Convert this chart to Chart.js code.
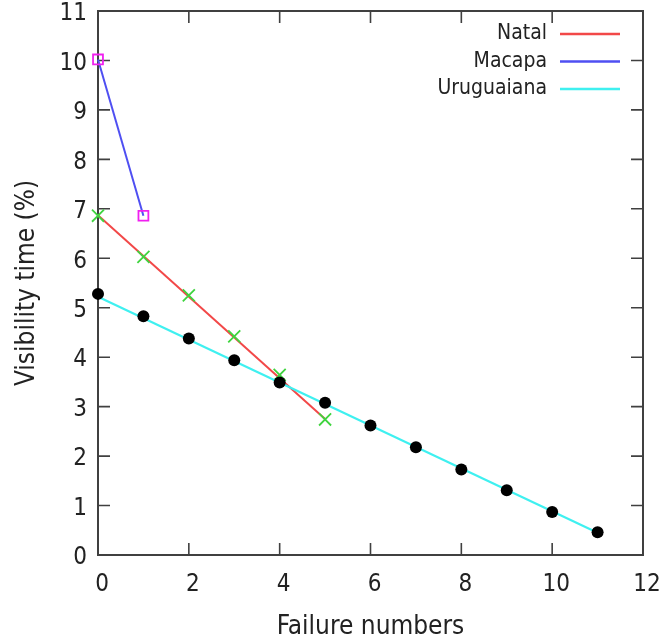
<!DOCTYPE html>
<html>
<head>
<meta charset="utf-8">
<script src="https://cdn.jsdelivr.net/npm/chart.js@4.4.0/dist/chart.umd.min.js"></script>
<style>
body { margin: 0; background: #fff; }
#wrap { width: 665px; height: 643px; }
</style>
</head>
<body>
<div id="wrap"><canvas id="chart" width="665" height="643"></canvas></div>
<script>
// failure numbers vs visibility time (%)
const natalX = [0, 1, 2, 3, 4, 5]
const natalY = [6.86, 6.03, 5.25, 4.42, 3.64, 2.74]
const natalFitX = [0, 5]
const natalFitY = [6.87, 2.75]

const macapaX = [0, 1]
const macapaY = [10.02, 6.86]

const uruX = [0, 1, 2, 3, 4, 5, 6, 7, 8, 9, 10, 11]
const uruY = [5.28, 4.83, 4.38, 3.94, 3.49, 3.08, 2.62, 2.18, 1.73, 1.31, 0.87, 0.46]
const uruFitX = [0, 11]
const uruFitY = [5.22, 0.45]

const xTicks = [0, 2, 4, 6, 8, 10, 12]
const yTicks = [0, 1, 2, 3, 4, 5, 6, 7, 8, 9, 10, 11]

const FONT = '"DejaVu Sans Condensed", "DejaVu Sans"'
const INK = '#222'
const FRAME = '#404040'

const pts = (xs, ys) => xs.map((x, i) => ({x: x, y: ys[i]}))

//frame with inward ticks on all four sides, gnuplot style
const framePlugin = {
	id: 'frame',
	beforeDatasetsDraw(chart)
	{
		const {ctx, chartArea: a, scales} = chart
		ctx.save()
		ctx.strokeStyle = FRAME
		ctx.lineWidth = 2
		ctx.strokeRect(a.left, a.top, a.right - a.left, a.bottom - a.top)
		ctx.lineWidth = 1.6
		ctx.beginPath()
		const len = 12
		xTicks.forEach(v =>
		{
			const px = scales.x.getPixelForValue(v)
			ctx.moveTo(px, a.bottom); ctx.lineTo(px, a.bottom - len)
			ctx.moveTo(px, a.top); ctx.lineTo(px, a.top + len)
		})
		yTicks.forEach(v =>
		{
			const py = scales.y.getPixelForValue(v)
			ctx.moveTo(a.left, py); ctx.lineTo(a.left + len, py)
			ctx.moveTo(a.right, py); ctx.lineTo(a.right - len, py)
		})
		ctx.stroke()
		ctx.restore()
	}
}

//key in the top right corner: text first, then line sample
const keyPlugin = {
	id: 'key',
	afterDraw(chart)
	{
		const ctx = chart.ctx
		const items = chart.data.datasets.filter(d => d.inKey)
		ctx.save()
		ctx.font = '21px ' + FONT
		ctx.textAlign = 'right'
		ctx.textBaseline = 'middle'
		items.forEach((d, i) =>
		{
			const y = 34 + i * 27.5
			ctx.fillStyle = INK
			ctx.fillText(d.label, 547, y)
			ctx.strokeStyle = d.borderColor
			ctx.lineWidth = 2.5
			ctx.beginPath()
			ctx.moveTo(560, y)
			ctx.lineTo(620, y)
			ctx.stroke()
		})
		ctx.restore()
	}
}

const ctx = document.getElementById('chart').getContext('2d')

const chart = new Chart(ctx,
{
	type: 'scatter',
	data: {
		datasets: [
		{
			label: 'Natal', inKey: true,
			data: pts(natalFitX, natalFitY),
			showLine: true, borderColor: '#f24848', borderWidth: 2,
			pointRadius: 0, order: 6, clip: false
		},
		{
			label: 'Natal points',
			data: pts(natalX, natalY),
			showLine: false, pointStyle: 'crossRot', pointRadius: 8.5,
			pointBorderColor: '#3fd43f', pointBorderWidth: 1.8,
			order: 5, clip: false
		},
		{
			label: 'Macapa', inKey: true,
			data: pts(macapaX, macapaY),
			showLine: true, borderColor: '#4f4ff2', borderWidth: 2,
			pointRadius: 0, order: 4, clip: false
		},
		{
			label: 'Macapa points',
			data: pts(macapaX, macapaY),
			showLine: false, pointStyle: 'rect', pointRadius: 7,
			pointBorderColor: '#f020f0', pointBackgroundColor: 'rgba(0,0,0,0)',
			pointBorderWidth: 1.8, order: 3, clip: false
		},
		{
			label: 'Uruguaiana', inKey: true,
			data: pts(uruFitX, uruFitY),
			showLine: true, borderColor: '#3ff0f0', borderWidth: 2.2,
			pointRadius: 0, order: 2, clip: false
		},
		{
			label: 'Uruguaiana points',
			data: pts(uruX, uruY),
			showLine: false, pointStyle: 'circle', pointRadius: 6,
			pointBorderColor: '#000', pointBackgroundColor: '#000',
			pointBorderWidth: 0, order: 1, clip: false
		}]
	},
	options: {
		responsive: false,
		animation: false,
		events: [],
		layout: { padding: { top: 11, right: 22, left: 0, bottom: 0 } },
		plugins: {
			legend: { display: false },
			tooltip: { enabled: false }
		},
		scales: {
			x: {
				type: 'linear', min: 0, max: 12,
				afterBuildTicks: s => { s.ticks = xTicks.map(v => ({value: v})) },
				afterFit: s => { s.height = 88; s.paddingLeft = 0; s.paddingRight = 0 },
				grid: { display: false, drawTicks: false },
				border: { display: false },
				ticks: {
					padding: 18, labelOffset: 4, color: INK, maxRotation: 0,
					font: { family: FONT, size: 24, lineHeight: 1 }
				},
				title: {
					display: true, text: 'Failure numbers', color: INK,
					font: { family: FONT, size: 26, lineHeight: 1.2 },
					padding: { top: 2, bottom: 0 }
				}
			},
			y: {
				type: 'linear', min: 0, max: 11,
				afterBuildTicks: s => { s.ticks = yTicks.map(v => ({value: v})) },
				afterFit: s => { s.width = 98; s.paddingTop = 0; s.paddingBottom = 0 },
				grid: { display: false, drawTicks: false },
				border: { display: false },
				ticks: {
					padding: 11, labelOffset: 3, color: INK,
					font: { family: FONT, size: 24, lineHeight: 1 }
				},
				title: {
					display: true, text: 'Visibility time (%)', color: INK,
					font: { family: FONT, size: 26, lineHeight: 1.2 },
					padding: { top: 12, bottom: 0 }
				}
			}
		}
	},
	plugins: [framePlugin, keyPlugin]
})
</script>
</body>
</html>
